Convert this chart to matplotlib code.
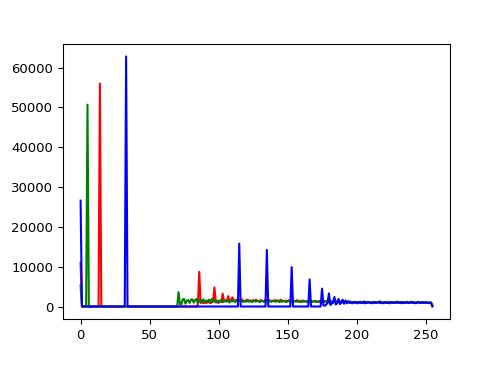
import matplotlib
matplotlib.use("Agg")
import matplotlib.pyplot as plt
import numpy as np

# Histogram counts for pixel values 0..255
red_counts = (
    [11000] + [0] * 13 + [56000] + [0] * 70 +
    [400, 8700, 900, 1100, 800, 1200, 900, 1000, 1300, 800, 1100, 1200, 4800,
     1000, 1300, 900, 1400, 1100, 3200, 1200, 1500, 1300, 2600, 1400, 1600, 2300] +
    [1500, 1400, 1700, 1300, 1600, 1500, 1800, 1400, 1300, 1600,
     1700, 1400, 1500, 1300, 1600, 1400, 1700, 1500, 1300, 1500,
     1600, 1400, 1300, 1700, 1500, 1400, 1600, 1300, 1500, 1400,
     1600, 1500, 1300, 1400, 1700, 1500, 1300, 1400, 1500, 1300,
     1600, 1400, 1200, 1500, 1300, 1400, 1600, 1300, 1200, 1400,
     1500, 1300, 1400, 1200, 1300, 1500, 1400, 1200, 1300, 1400,
     1300, 1200, 1400, 1300, 1100, 1300, 1400, 1200, 1300, 1100,
     1200, 1300, 1100, 1200, 1400, 1200, 1100, 1300, 1200, 1100,
     1200, 1100, 1300, 1200, 1000, 1200, 1100, 1000, 1200, 1100] +
    [1100, 1000, 1200, 1000, 900, 1100, 1000, 1200, 1000, 900,
     1100, 1000, 900, 1100, 1000, 1000, 900, 1100, 1000, 900,
     1000, 1100, 900, 1000, 1100, 900, 1000, 1000, 900, 1100,
     1000, 900, 1000, 1100, 1000, 900, 1000, 900, 1100, 1000,
     900, 1000, 1000, 900, 1100, 1000, 900, 1000, 1000, 900,
     1000, 900, 1000, 900] +
    [200]
)

green_counts = (
    [5200] + [0] * 4 + [50700] + [0] * 65 +
    [3600] +
    [600, 500, 1800, 1900, 700, 1500, 1600, 900, 1700, 1800,
     1000, 1600, 1900, 800, 1400, 1700, 1200, 1800, 1000, 1500,
     1300, 1700, 1100, 1900, 1200, 1400, 1600, 1000, 1500, 1300,
     1700, 1100, 1400, 1600, 1200, 1500, 1000, 1400, 1300, 1600,
     1100, 1500, 1200, 1400, 1300, 1500, 1100, 1400, 1200] +
    [1400, 1200, 1500, 1100, 1300, 1400, 1200, 1500, 1300, 1100,
     1400, 1300, 1200, 1500, 1300, 1100, 1400, 1200, 1300, 1400,
     1200, 1300, 1500, 1100, 1300, 1200, 1400, 1300, 1100, 1300,
     1400, 1200, 1300, 1100, 1400, 1200, 1300, 1200, 1400, 1100,
     1300, 1200, 1400, 1100, 1300, 1200, 1100, 1300, 1200, 1400,
     1100, 1300, 1200, 1000, 1300, 1100, 1200, 1300, 1000, 1200,
     1100, 1300, 1000, 1200, 1100, 1000, 1300, 1100, 1200, 1000,
     1100, 1200, 1000, 1100, 1300, 1000, 1100, 1200, 1000, 1100] +
    [1000, 1200, 900, 1100, 1000, 1300, 900, 1000, 1100, 900,
     1000, 1200, 1000, 900, 1100, 1000, 1300, 900, 1000, 1100,
     900, 1000, 1200, 1000, 900, 1100, 1000, 1000, 900, 1200,
     1000, 900, 1100, 1000, 900, 1000, 1200, 1000, 900, 1000,
     1100, 900, 1000, 1000, 1200, 900, 1000, 1100, 900, 1000,
     900, 1000, 900, 1000] +
    [300]
)

blue_counts = (
    [26600] + [0] * 32 + [62800] + [0] * 81 +
    [15800] + [0] * 19 + [14200] + [0] * 17 + [9900] + [0] * 12 +
    [6800] + [0] * 8 +
    [4500, 300, 200, 500, 900, 3300, 400, 700, 1000, 2400, 500, 900,
     1900, 600, 1000, 1700, 700, 1500, 800, 1300, 900] +
    [1000, 800, 1100, 900, 1000, 800, 1100, 1000, 900, 1200,
     800, 1000, 900, 1100, 1000, 800, 1000, 1100, 900, 1000,
     1200, 900, 1000, 800, 1000, 1100, 900, 1000, 800, 1100,
     1000, 900, 1000, 1200, 900, 1000, 1100, 800, 1000, 900,
     1100, 1000, 900, 1000, 1200, 900, 1000, 800, 1000, 1100,
     900, 1000, 1000, 900, 1100, 1000, 900, 1000, 900] +
    [0]
)

channels = [("r", red_counts), ("g", green_counts), ("b", blue_counts)]

plt.rcParams["font.size"] = 9.5
fig = plt.figure(figsize=(5.0, 3.65), dpi=100)
ax = fig.add_axes([0.126, 0.126, 0.774, 0.7535])
for color, counts in channels:
    assert len(counts) == 256, (color, len(counts))
    ax.plot(np.arange(256), counts, color=color, linewidth=1.5)

fig.savefig("out.png", dpi=100)
